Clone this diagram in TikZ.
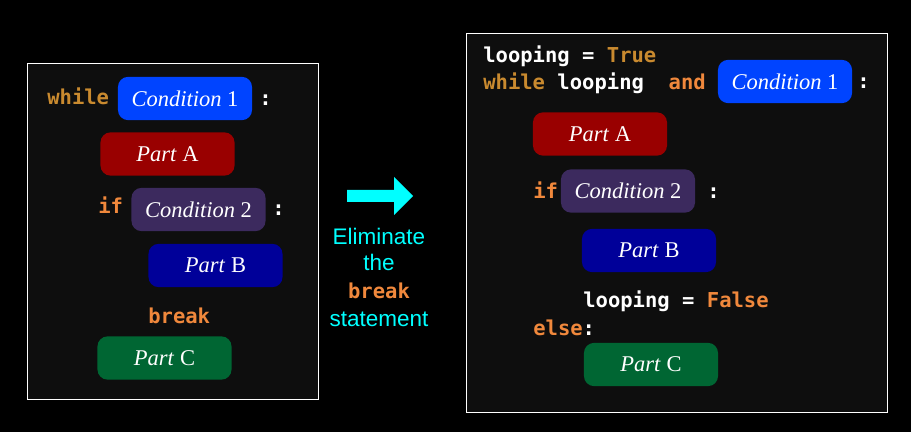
\documentclass[tikz,border=0pt]{standalone}
\usepackage{fontspec}
\setmainfont{Liberation Serif}
\setsansfont{Liberation Sans}
\setmonofont{DejaVu Sans Mono}
\definecolor{panelgray}{HTML}{0E0E0E}
\definecolor{condone}{HTML}{0044FF}
\definecolor{condtwo}{HTML}{3C2A5E}
\definecolor{partA}{HTML}{990000}
\definecolor{partB}{HTML}{000099}
\definecolor{partC}{HTML}{006633}
\definecolor{kwgold}{HTML}{C98A2F}
\definecolor{kworange}{HTML}{F0883C}
\definecolor{elimcyan}{HTML}{00FFFF}
\newcommand{\codefont}{\ttfamily\bfseries\fontsize{14.6}{17}\selectfont}
\newcommand{\boxfont}{\rmfamily\fontsize{16}{19}\selectfont}

\begin{document}
\begin{tikzpicture}
	[x=0.025cm, y=-0.025cm,
	panel/.style={draw=white, fill=panelgray, line width=0.6pt},
	block/.style={rectangle, rounded corners=0.25cm, inner sep=0pt, minimum width=3.35cm, minimum height=1.08cm, text=white, font=\boxfont},
	code/.style={anchor=base west, inner sep=0pt, text=white, font=\codefont},
	elimText/.style={anchor=base, inner sep=0pt, text=elimcyan, font=\sffamily\fontsize{16}{19}\selectfont}]
	
	\fill[black] (0,0) rectangle (911,432);
	\useasboundingbox (0,0) rectangle (911,432);
	
	% original loop with break
	\draw[panel] (27,63) rectangle (318,399);
	\node (whileL) at (47,105) [code, text=kwgold] {while};
	\node (condOneL) at (185,98.5) [block, fill=condone] {\textit{Condition} 1};
	\node (colonOneL) at (259,106) [code] {:};
	\node (partAL) at (167.5,154) [block, fill=partA] {\textit{Part} A};
	\node (ifL) at (98,214) [code, text=kworange] {if};
	\node (condTwoL) at (198.5,209.5) [block, fill=condtwo] {\textit{Condition} 2};
	\node (colonTwoL) at (272,215) [code] {:};
	\node (partBL) at (215.5,265.5) [block, fill=partB] {\textit{Part} B};
	\node (breakL) at (148,323) [code, text=kworange] {break};
	\node (partCL) at (164.5,358) [block, fill=partC] {\textit{Part} C};
	
	% arrow and caption
	\fill[elimcyan] (347,190) -- (394,190) -- (394,177) -- (413,196) -- (394,215) -- (394,202) -- (347,202) -- cycle;
	\node (elimA) at (379,244) [elimText] {Eliminate};
	\node (elimB) at (379,270) [elimText] {the};
	\node (elimC) at (379,298) [elimText, text=kworange, font=\codefont] {break};
	\node (elimD) at (379,326) [elimText] {statement};
	
	% rewritten loop with flag
	\draw[panel] (466,33) rectangle (887,412);
	\node (initR) at (483,63) [code] {looping = \textcolor{kwgold}{True}};
	\node (whileR) at (483,90) [code] {\textcolor{kwgold}{while} looping\ \ \textcolor{kworange}{and}};
	\node (condOneR) at (785,81.5) [block, fill=condone] {\textit{Condition} 1};
	\node (colonOneR) at (857,89) [code] {:};
	\node (partAR) at (600,134) [block, fill=partA] {\textit{Part} A};
	\node (ifR) at (533,198) [code, text=kworange] {if};
	\node (condTwoR) at (628,191) [block, fill=condtwo] {\textit{Condition} 2};
	\node (colonTwoR) at (707,198) [code] {:};
	\node (partBR) at (649,250.5) [block, fill=partB] {\textit{Part} B};
	\node (flagR) at (583,307) [code] {looping = \textcolor{kworange}{False}};
	\node (elseR) at (533,335) [code] {\textcolor{kworange}{else}:};
	\node (partCR) at (651,364.5) [block, fill=partC] {\textit{Part} C};

\end{tikzpicture}
\end{document}
